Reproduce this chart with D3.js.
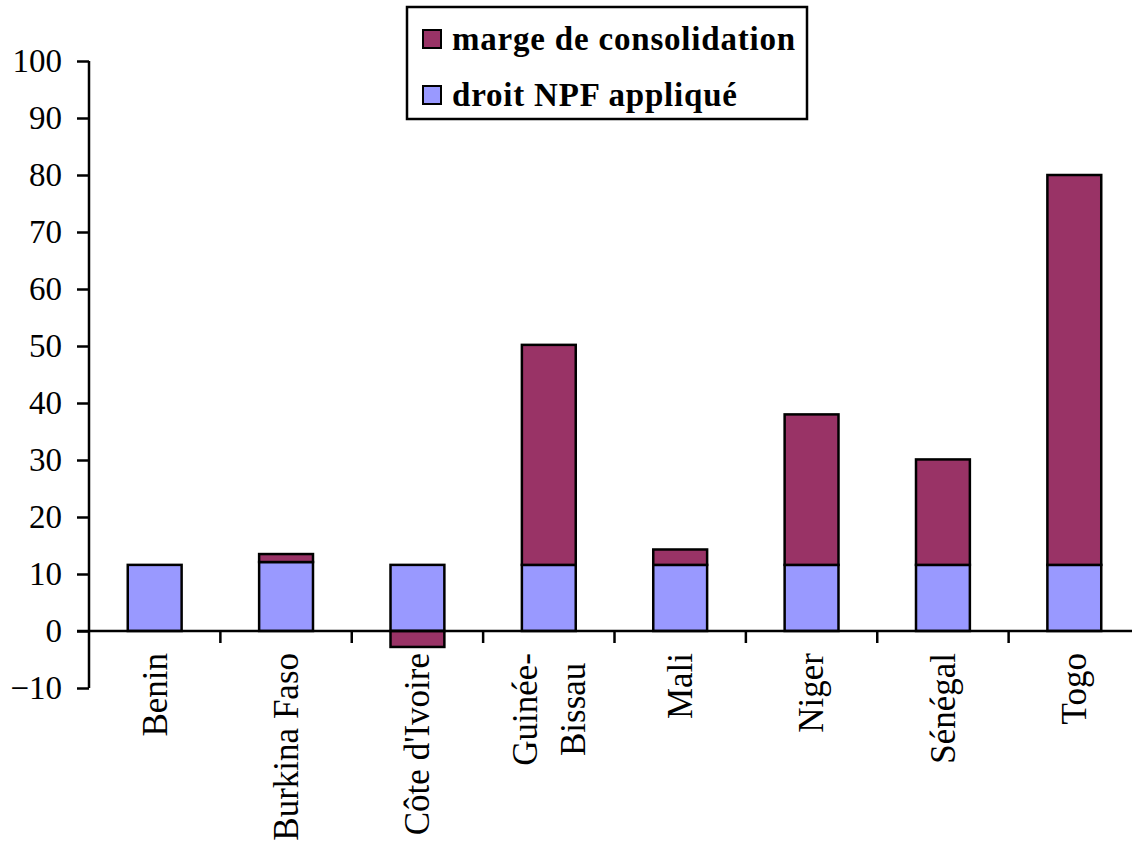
<!DOCTYPE html>
<html><head><meta charset="utf-8">
<script src="https://cdn.jsdelivr.net/npm/d3@7"></script>
<style>html,body{margin:0;padding:0;background:#fff;}
svg text{font-family:'Liberation Serif','Times New Roman',serif;}</style>
</head><body>
<svg id="c" width="1132" height="846"></svg>
<script>
const categories = [["Benin"],["Burkina Faso"],["Côte d'Ivoire"],["Guinée-","Bissau"],["Mali"],["Niger"],["Sénégal"],["Togo"]];
const npf = [11.6, 12.1, 11.6, 11.6, 11.6, 11.6, 11.6, 11.6];
const marge = [0, 1.4, -2.8, 38.6, 2.7, 26.4, 18.5, 68.4];
const yTicks = [-10, 0, 10, 20, 30, 40, 50, 60, 70, 80, 90, 100];
const seriesNames = ["marge de consolidation", "droit NPF appliqué"];
const colors = {npf: "#9999FF", marge: "#993366"};

const svg = d3.select("#c");
const font = "'Liberation Serif','Times New Roman',serif";
const keys = categories.map((c,i)=>i);
const x = d3.scaleBand().domain(keys).range([89, 1140]).paddingInner(0.59).paddingOuter(0.295);
const xb = d3.scaleBand().domain(keys).range([89, 1140]);
const y = d3.scaleLinear().domain([-10, 100]).range([688, 61]);

const rows = keys.map(i => ({i, npf: npf[i], marge: marge[i]}));
const stack = d3.stack().keys(["npf","marge"]).offset(d3.stackOffsetDiverging);
const series = stack(rows);

series.forEach(s => {
  svg.append("g").selectAll("rect").data(s).join("rect")
    .filter(d => d[1] !== d[0])
    .attr("x", d => x(d.data.i))
    .attr("width", x.bandwidth())
    .attr("y", d => y(Math.max(d[0], d[1])))
    .attr("height", d => Math.abs(y(d[0]) - y(d[1])))
    .attr("fill", colors[s.key])
    .attr("stroke", "#000").attr("stroke-width", 2.5);
});

const ya = svg.append("g").attr("transform", "translate(89,0)")
  .call(d3.axisLeft(y).tickValues(yTicks).tickSize(12).tickPadding(15).tickFormat(d3.format("d")));
ya.attr("font-family", null).attr("font-size", null);
ya.select(".domain").attr("stroke-width", 2.5).attr("d", `M0,${y(100)}V${y(-10)}`);
ya.selectAll(".tick line").attr("stroke-width", 2.5).attr("x1", 0).attr("x2", -12);
ya.selectAll(".tick text").style("font-family", font).style("font-size", "33px").attr("fill", "#000").attr("dy", "0.33em");

const xa = svg.append("g").attr("transform", `translate(0,${y(0)})`);
xa.append("line").attr("x1", 77).attr("x2", 1140).attr("stroke", "#000").attr("stroke-width", 2.5);
xa.selectAll("line.tk").data(keys.slice(1)).join("line").attr("class","tk")
  .attr("x1", d => xb(d)).attr("x2", d => xb(d)).attr("y1", 0).attr("y2", 12)
  .attr("stroke", "#000").attr("stroke-width", 2.5);

const labTop = 653;
const lineGap = 48;
categories.forEach((lines, i) => {
  const cx = x(i) + x.bandwidth()/2;
  const g = svg.append("g");
  const texts = lines.map(l => g.append("text").text(l)
      .style("font-family", font).style("font-size", "35px").attr("fill", "#000"));
  const maxW = d3.max(texts, t => t.node().getComputedTextLength());
  const cy = labTop + maxW/2;
  texts.forEach((t, k) => {
    const off = (k - (lines.length-1)/2) * lineGap;
    t.attr("text-anchor", "middle").attr("dy", "0.34em")
     .attr("transform", `translate(${cx + off},${cy}) rotate(-90)`);
  });
});

const lg = svg.append("g");
lg.append("rect").attr("x", 407).attr("y", 7).attr("width", 400).attr("height", 112)
  .attr("fill", "#fff").attr("stroke", "#000").attr("stroke-width", 2.5);
const legendItems = [{name: seriesNames[0], c: colors.marge, y: 30}, {name: seriesNames[1], c: colors.npf, y: 86}];
legendItems.forEach(it => {
  lg.append("rect").attr("x", 423).attr("y", it.y).attr("width", 18).attr("height", 18)
    .attr("fill", it.c).attr("stroke", "#000").attr("stroke-width", 2);
  lg.append("text").text(it.name).attr("x", 452).attr("y", it.y + 20)
    .style("font-family", font).style("font-weight", "bold").style("font-size", "33px")
    .style("letter-spacing", "0.8px").attr("fill", "#000");
});
</script>
</body></html>
